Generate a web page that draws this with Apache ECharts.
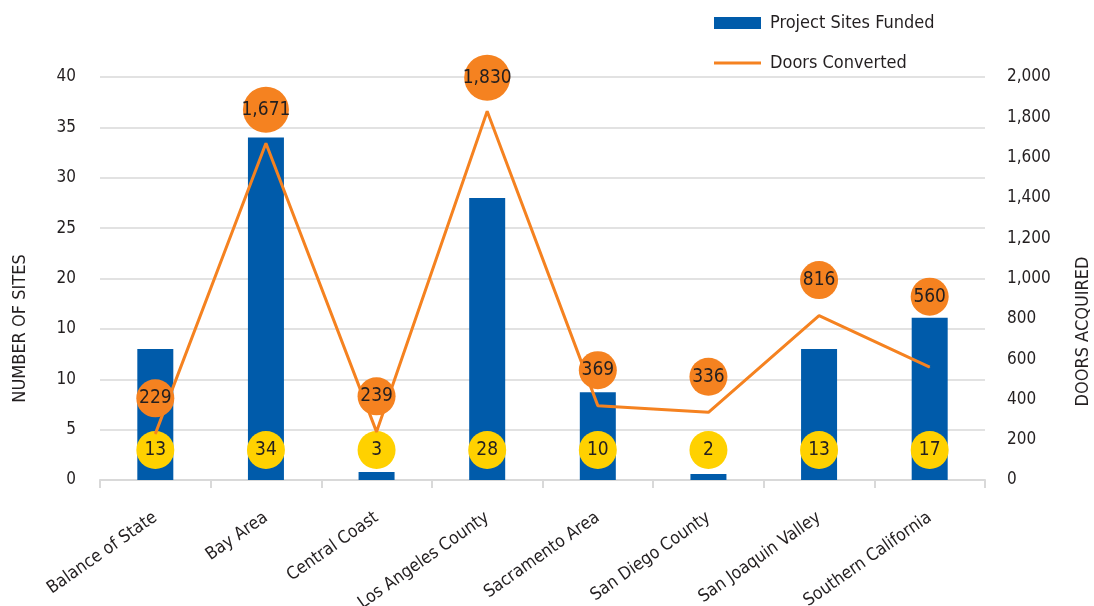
<!DOCTYPE html>
<html>
<head>
<meta charset="utf-8">
<script src="https://cdn.jsdelivr.net/npm/echarts@6/dist/echarts.min.js"></script>
<style>
  html, body { margin: 0; padding: 0; background: #fff; }
  #chart { width: 1094px; height: 606px; }
</style>
</head>
<body>
<div id="chart"></div>
<script>
const categories = ['Balance of State', 'Bay Area', 'Central Coast', 'Los Angeles County',
  'Sacramento Area', 'San Diego County', 'San Joaquin Valley', 'Southern California'];
// labelled counts in the yellow circles
const sitesFunded = [13, 34, 3, 28, 10, 2, 13, 17];
// bar heights as drawn in the picture
const barHeights = [13, 34, 0.8, 28, 8.7, 0.6, 13, 16.1];
const doorsConverted = [229, 1671, 239, 1830, 369, 336, 816, 560];
const leftTickLabels = ['0', '5', '10', '10', '20', '25', '30', '35', '40'];

const FONT = '"DejaVu Sans Condensed", "Liberation Sans Narrow", "Roboto", sans-serif';
const TEXT = '#231F20';
const BLUE = '#005BAA';
const ORANGE = '#F58220';
const YELLOW = '#FFD100';

const fmt = (v) => v.toLocaleString('en-US');

const circleLabel = (bg) => ({
  show: true,
  backgroundColor: bg,
  width: 38,
  height: 38,
  lineHeight: 38,
  borderRadius: 19,
  color: TEXT,
  fontFamily: FONT,
  fontSize: 19,
  padding: 0
});

// circles grow for the longer numbers, the last one sits higher
const doorsData = doorsConverted.map((v, i) => {
  const d = fmt(v).length > 3 ? 46 : 38;
  const lift = i === 7 ? 70 : (d > 38 ? 33 : 35);
  return {
    value: v,
    label: { width: d, height: d, lineHeight: d, borderRadius: d / 2, distance: lift - d / 2 }
  };
});

const chart = echarts.init(document.getElementById('chart'));
chart.setOption({
  animation: false,
  textStyle: { fontFamily: FONT, color: TEXT },
  legend: {
    orient: 'vertical',
    left: 709,
    top: 9,
    itemWidth: 47,
    itemHeight: 12,
    itemGap: 22,
    textStyle: { fontSize: 18, color: TEXT, fontFamily: FONT, padding: [0, 0, 0, 4] },
    data: [
      { name: 'Project Sites Funded', icon: 'rect' },
      { name: 'Doors Converted', icon: 'path://M0,0 L47,0 L47,3 L0,3 Z' }
    ]
  },
  grid: { left: 100, right: 109, top: 77, bottom: 126, containLabel: false, outerBoundsMode: 'none' },
  xAxis: {
    type: 'category',
    data: categories,
    axisLine: { lineStyle: { color: '#D9D9D9', width: 2 } },
    axisTick: { show: true, length: 8, lineStyle: { color: '#D9D9D9', width: 2 } },
    axisLabel: { rotate: 35, fontSize: 17.5, color: TEXT, fontFamily: FONT, margin: 36, interval: 0 }
  },
  yAxis: [
    {
      type: 'value',
      min: 0, max: 40, interval: 5,
      name: 'NUMBER OF SITES',
      nameLocation: 'middle',
      nameRotate: 90,
      nameGap: 71,
      nameTextStyle: { fontSize: 18, color: TEXT, fontFamily: FONT, padding: [0, 100, 0, 0] },
      axisLine: { show: false },
      axisTick: { show: false },
      splitLine: { lineStyle: { color: '#D9D9D9', width: 1.5 } },
      axisLabel: {
        fontSize: 17, color: TEXT, fontFamily: FONT, margin: 24,
        formatter: (v) => leftTickLabels[Math.round(v / 5)]
      }
    },
    {
      type: 'value',
      min: 0, max: 2000, interval: 200,
      name: 'DOORS ACQUIRED',
      nameLocation: 'middle',
      nameRotate: 90,
      nameGap: 89,
      nameTextStyle: { fontSize: 18, color: TEXT, fontFamily: FONT, padding: [0, 106, 0, 0] },
      axisLine: { show: false },
      axisTick: { show: false },
      splitLine: { show: false },
      axisLabel: {
        fontSize: 17, color: TEXT, fontFamily: FONT, margin: 22,
        formatter: fmt
      }
    }
  ],
  series: [
    {
      name: 'Project Sites Funded',
      type: 'bar',
      yAxisIndex: 0,
      barWidth: 36,
      itemStyle: { color: BLUE },
      data: barHeights,
      label: Object.assign(circleLabel(YELLOW), {
        position: 'insideBottom',
        distance: 11,
        formatter: (p) => String(sitesFunded[p.dataIndex])
      })
    },
    {
      name: 'Doors Converted',
      type: 'line',
      yAxisIndex: 1,
      symbol: 'circle',
      symbolSize: 1,
      itemStyle: { color: ORANGE },
      lineStyle: { color: ORANGE, width: 3 },
      data: doorsData,
      label: Object.assign(circleLabel(ORANGE), {
        position: 'top',
        formatter: (p) => fmt(doorsConverted[p.dataIndex])
      })
    }
  ]
});
</script>
</body>
</html>
